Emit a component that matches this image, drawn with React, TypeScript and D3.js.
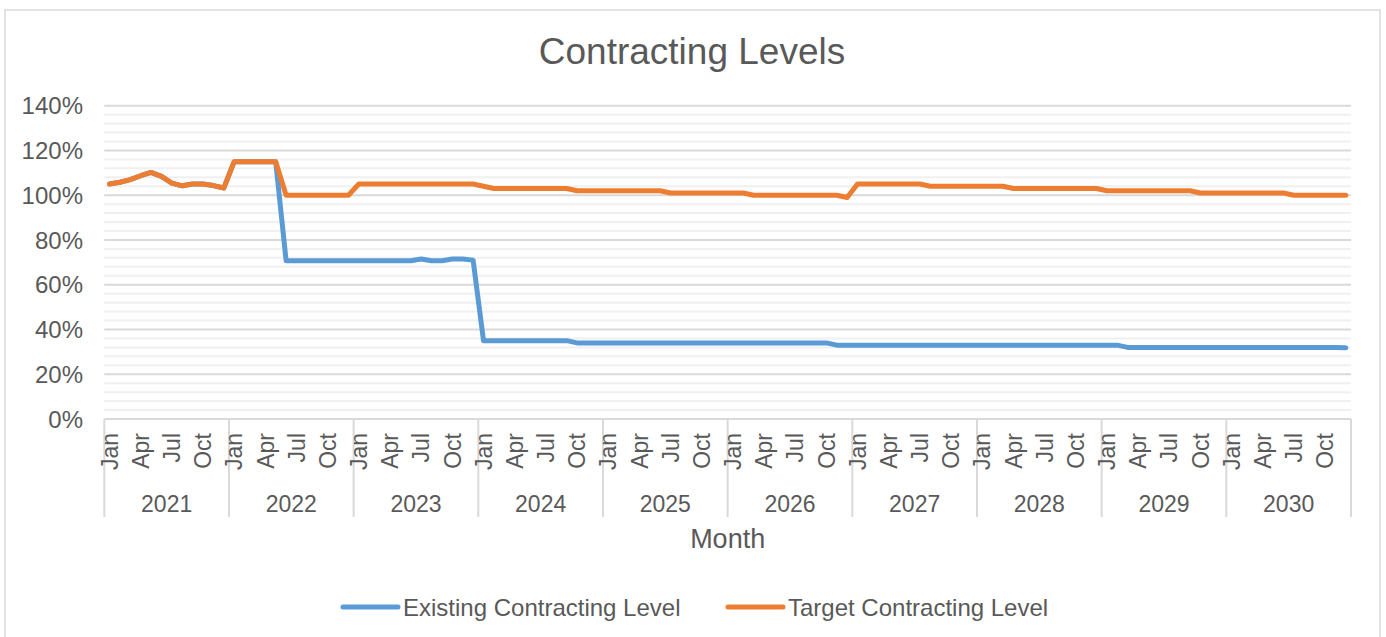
import React from 'react';
import * as d3 from 'd3';

const years = [2021, 2022, 2023, 2024, 2025, 2026, 2027, 2028, 2029, 2030];
const monthNames = ['Jan', 'Feb', 'Mar', 'Apr', 'May', 'Jun', 'Jul', 'Aug', 'Sep', 'Oct', 'Nov', 'Dec'];
const shownMonths = ['Jan', 'Apr', 'Jul', 'Oct'];
const yTicks = [0, 20, 40, 60, 80, 100, 120, 140];
const yMinorStep = 4;

const existingLevel = [
  // 2021
  105, 105.8, 107, 108.7, 110.2, 108.4, 105.4, 104.2, 105, 105, 104.3, 103.2,
  // 2022
  115, 115, 115, 115, 115, 70.7, 70.7, 70.7, 70.7, 70.7, 70.7, 70.7,
  // 2023
  70.7, 70.7, 70.7, 70.7, 70.7, 70.7, 71.5, 70.7, 70.7, 71.5, 71.5, 71,
  // 2024
  35, 35, 35, 35, 35, 35, 35, 35, 35, 34, 34, 34,
  // 2025
  34, 34, 34, 34, 34, 34, 34, 34, 34, 34, 34, 34,
  // 2026
  34, 34, 34, 34, 34, 34, 34, 34, 34, 34, 33, 33,
  // 2027
  33, 33, 33, 33, 33, 33, 33, 33, 33, 33, 33, 33,
  // 2028
  33, 33, 33, 33, 33, 33, 33, 33, 33, 33, 33, 33,
  // 2029
  33, 33, 32, 32, 32, 32, 32, 32, 32, 32, 32, 32,
  // 2030
  32, 32, 32, 32, 32, 32, 32, 32, 32, 32, 32, 31.8,
];

const targetLevel = [
  // 2021
  105, 105.8, 107, 108.7, 110.2, 108.4, 105.4, 104.2, 105, 105, 104.3, 103.2,
  // 2022
  115, 115, 115, 115, 115, 100, 100, 100, 100, 100, 100, 100,
  // 2023
  105, 105, 105, 105, 105, 105, 105, 105, 105, 105, 105, 105,
  // 2024
  104, 103, 103, 103, 103, 103, 103, 103, 103, 102, 102, 102,
  // 2025
  102, 102, 102, 102, 102, 102, 101, 101, 101, 101, 101, 101,
  // 2026
  101, 101, 100, 100, 100, 100, 100, 100, 100, 100, 100, 99,
  // 2027
  105, 105, 105, 105, 105, 105, 105, 104, 104, 104, 104, 104,
  // 2028
  104, 104, 104, 103, 103, 103, 103, 103, 103, 103, 103, 103,
  // 2029
  102, 102, 102, 102, 102, 102, 102, 102, 102, 101, 101, 101,
  // 2030
  101, 101, 101, 101, 101, 101, 100, 100, 100, 100, 100, 100,
];

const seriesNames = ['Existing Contracting Level', 'Target Contracting Level'];
const seriesColors = ['#5B9BD5', '#ED7D31'];

const W = 1386;
const H = 637;
const FONT = "'Liberation Sans', Arial, sans-serif";
const TEXT = '#595959';

export default function App() {
  const categories = years.flatMap((yr) => monthNames.map((m) => `${m} ${yr}`));
  const x = d3.scaleBand<string>().domain(categories).range([104.3, 1351]).paddingInner(0).paddingOuter(0);
  const cx = (i: number) => (x(categories[i]) as number) + x.bandwidth() / 2;
  const y = d3.scaleLinear().domain([0, 140]).range([419, 105.7]);
  const yearScale = d3.scaleBand<number>().domain(years).range([104.3, 1351]);

  const minorTicks = d3.range(0, 140 + 0.001, yMinorStep).filter((v) => v % 20 !== 0);
  const line = d3
    .line<number>()
    .x((_, i) => cx(i))
    .y((d) => y(d));

  const series = [existingLevel, targetLevel];
  const [x0, x1] = x.range();

  return (
    <svg
      width={W}
      height={H}
      style={{ position: 'absolute', left: 0, top: 0, background: '#fff' }}
      fontFamily={FONT}
    >
      <rect x={0} y={0} width={W} height={H} fill="#fff" />
      <rect x={5} y={10} width={1375} height={660} fill="#fff" stroke="#d9d9d9" strokeWidth={1.5} />

      <text x={692} y={64} textAnchor="middle" fontSize={37} fill={TEXT}>
        Contracting Levels
      </text>

      {minorTicks.map((v) => (
        <line key={`mn${v}`} x1={x0} x2={x1} y1={y(v)} y2={y(v)} stroke="#f0f0f0" strokeWidth={2} />
      ))}
      {yTicks.filter((v) => v > 0).map((v) => (
        <line key={`mj${v}`} x1={x0} x2={x1} y1={y(v)} y2={y(v)} stroke="#d9d9d9" strokeWidth={2} />
      ))}

      {yTicks.map((v) => (
        <text key={`yl${v}`} x={83} y={y(v)} dy="0.36em" textAnchor="end" fontSize={24} fill={TEXT}>
          {`${v}%`}
        </text>
      ))}

      {/* x axis */}
      <line x1={x0} x2={x1} y1={y(0)} y2={y(0)} stroke="#d9d9d9" strokeWidth={2} />
      {[...years.map((yr) => yearScale(yr) as number), x1].map((xv, i) => (
        <line key={`ys${i}`} x1={xv} x2={xv} y1={y(0)} y2={517} stroke="#d9d9d9" strokeWidth={2} />
      ))}
      {categories.map((c, i) =>
        shownMonths.includes(monthNames[i % 12]) ? (
          <text
            key={`ml${i}`}
            transform={`translate(${cx(i)},433) rotate(-90)`}
            dy="0.36em"
            textAnchor="end"
            fontSize={23}
            fill={TEXT}
          >
            {monthNames[i % 12]}
          </text>
        ) : null
      )}
      {years.map((yr) => (
        <text
          key={`yr${yr}`}
          x={(yearScale(yr) as number) + yearScale.bandwidth() / 2}
          y={511.5}
          textAnchor="middle"
          fontSize={23}
          fill={TEXT}
        >
          {yr}
        </text>
      ))}
      <text x={(x0 + x1) / 2} y={548} textAnchor="middle" fontSize={27} fill={TEXT}>
        Month
      </text>

      {series.map((s, k) => (
        <path
          key={`s${k}`}
          d={line(s) || ''}
          fill="none"
          stroke={seriesColors[k]}
          strokeWidth={5}
          strokeLinejoin="round"
          strokeLinecap="round"
        />
      ))}

      {/* legend */}
      {seriesNames.map((n, k) => {
        const lx = k === 0 ? 343 : 728;
        return (
          <g key={`lg${k}`}>
            <line x1={lx} x2={lx + 55} y1={607} y2={607} stroke={seriesColors[k]} strokeWidth={5} strokeLinecap="round" />
            <text x={lx + 60} y={607} dy="0.36em" fontSize={24} fill={TEXT}>
              {n}
            </text>
          </g>
        );
      })}
    </svg>
  );
}
